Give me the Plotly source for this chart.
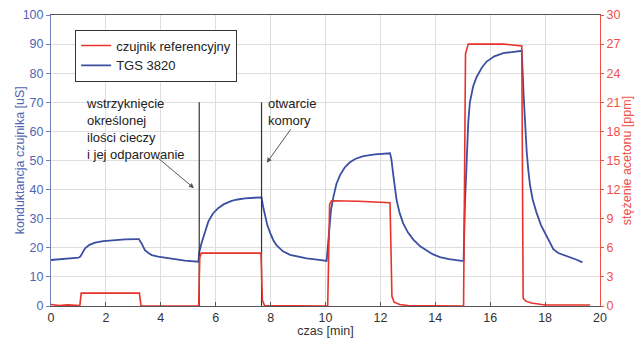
import plotly.graph_objects as go

# ---- data ----
t_tgs = [0, 0.5, 1.0, 1.07, 1.15, 1.24, 1.4, 1.6, 1.9, 2.2, 2.7, 3.12, 3.2, 3.3, 3.42, 3.55, 3.67, 3.9,
         4.15, 4.5, 4.88, 5.37, 5.4, 5.48, 5.55, 5.63, 5.73, 5.9, 6.1, 6.3, 6.58, 6.8, 7.07, 7.4, 7.67,
         7.73, 7.8, 7.88, 7.98, 8.1, 8.22, 8.45, 8.71, 9.0, 9.31, 9.7, 10.04, 10.1, 10.14, 10.2, 10.29,
         10.4, 10.53, 10.7, 10.89, 11.1, 11.38, 11.8, 12.35, 12.4, 12.47, 12.53, 12.59, 12.7, 12.83,
         13.0, 13.2, 13.45, 13.69, 13.9, 14.17, 14.5, 14.96, 15.03, 15.08, 15.14, 15.2, 15.26, 15.38,
         15.51, 15.7, 15.87, 16.15, 16.48, 16.8, 17.15, 17.22, 17.27, 17.33, 17.39, 17.45, 17.55, 17.69,
         17.85, 18.06, 18.2, 18.3, 18.48, 18.7, 18.91, 19.15, 19.36]
g_tgs = [15.8, 16.2, 16.6, 17.0, 18.6, 19.8, 21.0, 21.8, 22.3, 22.6, 22.9, 23.0, 23.0, 21.5, 19.2, 18.2,
         17.5, 17.0, 16.6, 16.1, 15.6, 15.2, 18.5, 21.5, 23.8, 26.5, 29.0, 31.8, 33.7, 35.0, 36.1, 36.6,
         37.0, 37.2, 37.3, 34.0, 30.7, 27.8, 25.2, 22.6, 20.8, 18.8, 17.6, 16.9, 16.4, 15.9, 15.5, 22.0,
         28.0, 33.0, 37.6, 42.0, 45.0, 47.6, 49.4, 50.6, 51.5, 52.1, 52.5, 50.5, 45.0, 40.0, 36.4, 32.0,
         28.4, 25.3, 22.8, 20.5, 18.9, 17.8, 16.8, 16.1, 15.5, 15.5, 35.0, 52.5, 63.0, 70.0, 75.5, 78.8,
         82.0, 84.0, 85.8, 86.9, 87.4, 87.7, 72.0, 62.0, 53.0, 46.5, 41.5, 36.5, 32.0, 27.8, 24.0, 21.0,
         19.5, 18.2, 17.5, 16.8, 15.9, 15.0]

t_ref = [0, 0.3, 0.6, 0.9, 1.05, 1.1, 2.2, 3.22, 3.28, 5.38, 5.42, 5.47, 7.65, 7.7, 7.78, 10.08, 10.15,
         10.22, 11.2, 12.35, 12.42, 12.5, 12.7, 13.0, 15.03, 15.1, 15.2, 16.5, 17.15, 17.2, 17.3, 17.5,
         18.0, 19.64]
c_ref = [0.15, 0.05, 0.12, 0.05, 0.05, 1.33, 1.33, 1.33, 0.0, 0.0, 5.0, 5.45, 5.45, 0.6, 0.05, 0.0,
         10.5, 10.85, 10.8, 10.65, 1.0, 0.4, 0.15, 0.05, 0.0, 26.0, 27.0, 27.0, 26.8, 0.8, 0.5, 0.3,
         0.1, 0.1]

event_times = [5.4, 7.67]
event_top = [70, 70]

x_ticks = list(range(0, 21, 2))
y_left_ticks = list(range(0, 101, 10))
y_right_ticks = list(range(0, 31, 3))

BLUE = "#3b4fa3"
BLUE_TXT = "#5264b3"
RED = "#e8322b"
RED_TXT = "#ee5048"
FONT = "Liberation Sans, Arial, sans-serif"

fig = go.Figure()
fig.add_trace(go.Scatter(x=t_ref, y=c_ref, yaxis="y2", mode="lines", name="czujnik referencyjny",
                         line=dict(color=RED, width=1.6)))
fig.add_trace(go.Scatter(x=t_tgs, y=g_tgs, mode="lines", name="TGS 3820",
                         line=dict(color=BLUE, width=1.8)))
for te, top in zip(event_times, event_top):
    fig.add_trace(go.Scatter(x=[te, te], y=[0, top], mode="lines", showlegend=False,
                             line=dict(color="#333333", width=1.2), hoverinfo="skip"))

fig.update_layout(
    width=640, height=338,
    margin=dict(l=51, r=40, t=15, b=32, autoexpand=False),
    paper_bgcolor="white", plot_bgcolor="white",
    font=dict(family=FONT, size=12, color="#333"),
    showlegend=True,
    legend=dict(x=0.044, y=0.95, xanchor="left", yanchor="top", bgcolor="white",
                bordercolor="#333", borderwidth=1, font=dict(size=13, color="#222"),
                tracegroupgap=0, itemwidth=30),
    xaxis=dict(range=[0, 20], tickvals=x_ticks, showgrid=True, gridcolor="#dedede",
               showline=True, linecolor="#555", mirror=True, ticks="inside", ticklen=4,
               tickcolor="#555", tickfont=dict(size=12.5, color="#333"), zeroline=False,
               automargin=False, ticklabeloverflow="allow",
               title=dict(text="czas [min]", font=dict(size=12.5, color="#333"), standoff=0)),
    yaxis=dict(range=[0, 100], tickvals=y_left_ticks, showgrid=True, gridcolor="#dedede",
               showline=True, linecolor="#7080b8", ticks="outside", ticklen=4, tickcolor="#7080b8",
               tickfont=dict(size=12.5, color=BLUE_TXT), zeroline=False, automargin=False,
               ticklabeloverflow="allow"),
    yaxis2=dict(range=[0, 30], tickvals=y_right_ticks, overlaying="y", side="right",
                showgrid=False, showline=True, linecolor=RED_TXT, ticks="outside", ticklen=3,
                tickcolor=RED_TXT, tickfont=dict(size=12.5, color=RED_TXT), zeroline=False,
                automargin=False, ticklabeloverflow="allow",
                title=dict(text="stężenie acetonu [ppm]", font=dict(size=12.5, color=RED_TXT),
                           standoff=2)),
    annotations=[
        dict(x=-0.057, y=0.5, xref="paper", yref="paper", xanchor="center", yanchor="middle",
             textangle=-90, showarrow=False, text="konduktancja czujnika [uS]",
             font=dict(size=12.5, color=BLUE_TXT)),
        dict(x=1.2, y=73, xref="x", yref="y", xanchor="left", yanchor="top", align="left",
             showarrow=False, text="wstrzyknięcie<br>określonej<br>ilości cieczy<br>i jej odparowanie",
             font=dict(size=13, color="#222")),
        dict(x=7.85, y=73, xref="x", yref="y", xanchor="left", yanchor="top", align="left",
             showarrow=False, text="otwarcie<br>komory", font=dict(size=13, color="#222")),
        dict(x=5.21, y=40.5, xref="x", yref="y", text="", showarrow=True, ax=-37, ay=-31,
             arrowcolor="#555", arrowwidth=1, arrowhead=2, arrowsize=1),
        dict(x=7.86, y=49.2, xref="x", yref="y", text="", showarrow=True, ax=25, ay=-35,
             arrowcolor="#555", arrowwidth=1, arrowhead=2, arrowsize=1),
    ],
)

# remove the default page margin so the figure sits at the window's top-left corner
fig.write_html("out.html", config={"displayModeBar": False},
               post_script="document.body.style.margin='0';document.body.style.padding='0';")
